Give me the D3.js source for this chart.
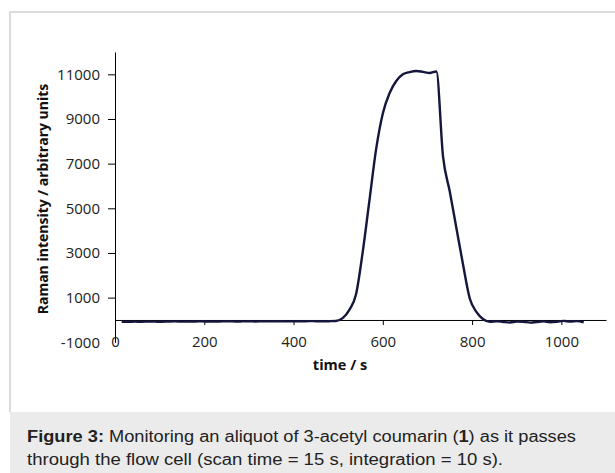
<!DOCTYPE html>
<html>
<head>
<meta charset="utf-8">
<script src="https://cdn.jsdelivr.net/npm/d3@7"></script>
<style>
  body { margin: 0; background: #fff; }
  svg { display: block; }
</style>
</head>
<body>
<div id="chart"></div>
<script>
// scan times (s) and Raman intensity readings
var times = [15,30,45,60,75,90,105,120,135,150,165,180,195,210,225,240,255,270,285,300,
  315,330,345,360,375,390,405,420,435,450,465,480,495,510,525,540,555,570,585,600,
  615,630,645,660,675,690,705,720,735,750,765,780,795,810,825,840,855,870,885,900,
  915,930,945,960,975,990,1005,1020,1035,1050];
var intensity = [-80,-85,-75,-80,-70,-75,-80,-70,-65,-75,-70,-70,-60,-70,-75,-65,-60,-70,-65,-60,
  -70,-60,-65,-55,-60,-65,-55,-60,-50,-55,-60,-55,-45,80,450,1150,3050,5350,7650,9250,
  10150,10700,11000,11100,11150,11110,11060,11130,7300,5750,4100,2450,950,350,30,-80,-60,-90,-110,-70,
  -80,-120,-90,-60,-100,-80,-40,-70,-50,-110];
var xTicks = [0,200,400,600,800,1000];
var yTicks = [-1000,1000,3000,5000,7000,9000,11000];

var width = 615, height = 473;
var svg = d3.select("#chart").append("svg")
  .attr("width", width).attr("height", height);

// panel frame + caption band
svg.append("rect").attr("x", 10).attr("y", 412).attr("width", width - 10).attr("height", height - 412)
  .attr("fill", "#ebebeb");
svg.append("path").attr("d", "M10,412V12H615")
  .attr("fill", "none").attr("stroke", "#dcdcdc").attr("stroke-width", 2);

var x = d3.scaleLinear().domain([0, 1100]).range([115, 606]);
var y = d3.scaleLinear().domain([-1000, 12000]).range([342.3, 52]);

var tickFont = "'Open Sans', sans-serif";
var plain = function(d) { return String(d); };

// y axis
var yAxis = svg.append("g")
  .attr("transform", "translate(" + x(0) + ",0)")
  .call(d3.axisLeft(y).tickValues(yTicks).tickSize(7).tickSizeOuter(0).tickPadding(8)
    .tickFormat(plain));
yAxis.select(".domain").attr("stroke", "#000");
yAxis.selectAll(".tick line").attr("stroke", "#000");
yAxis.selectAll(".tick").filter(function(d) { return d === -1000; }).select("line").remove();
yAxis.selectAll("text").attr("font-family", tickFont).attr("font-size", 15).attr("fill", "#222");

// x axis at zero
var xAxis = svg.append("g")
  .attr("transform", "translate(0," + y(0) + ")")
  .call(d3.axisBottom(x).tickValues(xTicks).tickSize(5).tickSizeOuter(0).tickPadding(11)
    .tickFormat(plain));
xAxis.select(".domain").attr("stroke", "#000");
xAxis.selectAll(".tick line").attr("stroke", "#000");
xAxis.selectAll("text").attr("font-family", tickFont).attr("font-size", 15).attr("fill", "#222");

// trace
var line = d3.line()
  .x(function(d, i) { return x(times[i]); })
  .y(function(d) { return y(d); })
  .curve(d3.curveMonotoneX);

svg.append("path")
  .datum(intensity)
  .attr("d", line)
  .attr("fill", "none")
  .attr("stroke", "#15163d")
  .attr("stroke-width", 2.4)
  .attr("stroke-linejoin", "round");

// axis titles
svg.append("text")
  .attr("x", 340).attr("y", 370)
  .attr("text-anchor", "middle")
  .attr("font-family", tickFont).attr("font-weight", "bold").attr("font-size", 14.5)
  .attr("fill", "#111")
  .text("time / s");

svg.append("text")
  .attr("transform", "translate(48,199) rotate(-90)")
  .attr("text-anchor", "middle")
  .attr("font-family", tickFont).attr("font-weight", "bold").attr("font-size", 14)
  .attr("fill", "#111")
  .text("Raman intensity / arbitrary units");

// caption (the original is set a little wide, so stretch to its measured width)
var capFont = "'Liberation Sans', Arial, sans-serif";
var l1 = svg.append("text")
  .attr("x", 27).attr("y", 441.5)
  .attr("font-family", capFont).attr("font-size", 16).attr("fill", "#222")
  .attr("textLength", 549).attr("lengthAdjust", "spacingAndGlyphs");
l1.append("tspan").attr("font-weight", "bold").text("Figure 3:");
l1.append("tspan").text(" Monitoring an aliquot of 3-acetyl coumarin (");
l1.append("tspan").attr("font-weight", "bold").text("1");
l1.append("tspan").text(") as it passes");
svg.append("text")
  .attr("x", 27).attr("y", 464.5)
  .attr("font-family", capFont).attr("font-size", 16).attr("fill", "#222")
  .attr("textLength", 476).attr("lengthAdjust", "spacingAndGlyphs")
  .text("through the flow cell (scan time = 15 s, integration = 10 s).");
</script>
</body>
</html>
